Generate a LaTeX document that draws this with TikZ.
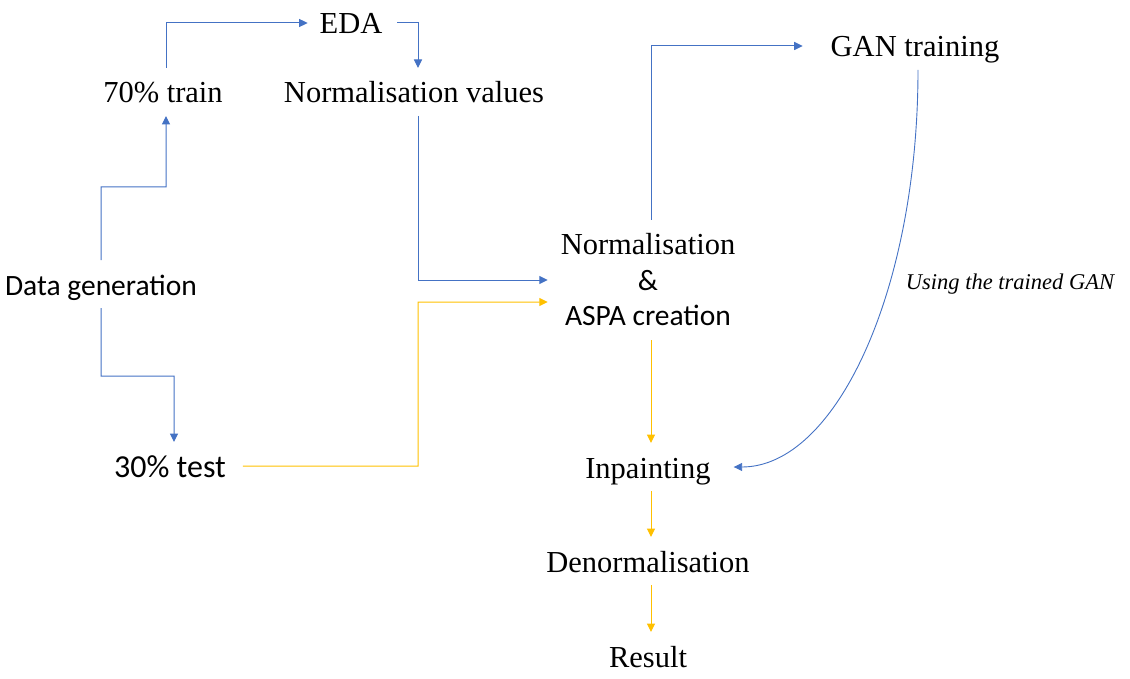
\documentclass[tikz,border=0pt]{standalone}
\usepackage{fontspec}
\setmainfont{Liberation Serif}
\newfontfamily\calib{Carlito}
\usetikzlibrary{arrows.meta,calc}
\definecolor{oblue}{HTML}{4472C4}
\definecolor{oyellow}{HTML}{FFC000}
\tikzset{
  lbl/.style={inner sep=0pt, outer xsep=15bp, outer ysep=11bp, text height=24bp, text depth=2bp,
              font=\fontsize{30.5bp}{36bp}\selectfont},
  clbl/.style={lbl, font=\fontsize{29.5bp}{36bp}\selectfont\calib},
  tip/.style={-{Triangle[length=8.5bp,width=8bp]}},
  bl/.style={draw=oblue, line width=1bp, tip},
  yl/.style={draw=oyellow, line width=1bp, tip},
}
\begin{document}
\begin{tikzpicture}[x=1bp,y=-1bp]
\useasboundingbox (0,0) rectangle (1130,679);
\node[lbl] (eda) at (351,23) {EDA};
\node[lbl] (train) at (163,92) {70\% train};
\node[lbl] (nv) at (414,92) {Normalisation values};
\node[clbl] (dg) at (101,284) {Data generation};
\node[clbl, font=\fontsize{32bp}{36bp}\selectfont\calib] (test) at (170,466) {30\% test};
\node[lbl] (gan) at (915,46) {GAN training};
\node[inner sep=0pt, outer xsep=13bp, outer ysep=14bp, align=center,
      font=\fontsize{30.5bp}{35.5bp}\selectfont] (asp) at (648,280)
      {Normalisation\\{\calib\fontsize{29.5bp}{35.5bp}\selectfont \&}\\{\calib\fontsize{29.5bp}{35.5bp}\selectfont ASPA creation}};
\node[lbl] (inp) at (648,467) {Inpainting};
\node[lbl] (den) at (648,561) {Denormalisation};
\node[lbl] (res) at (648,656) {Result};
\node[inner sep=0pt, font=\fontsize{22.5bp}{26bp}\selectfont\itshape] (lab) at (1010,284) {Using the trained GAN};

\draw[bl] (dg.north) |- (166,187) -- ([xshift=3bp]train.south);
\draw[bl] ([xshift=3bp]train.north) |- ([xshift=3bp]eda.west);
\draw[bl] (eda.east) -| ([xshift=4bp]nv.north);
\draw[bl] ([xshift=4bp]nv.south) |- (asp.west);
\draw[bl] (dg.south) |- (174,376) -- ([xshift=4bp]test.north);
\draw[yl] ([xshift=2bp]test.east) -| (418,302) -- ([yshift=-22bp]asp.west);
\draw[bl] ([xshift=3bp]asp.north) |- ([xshift=-13bp]gan.west);
\draw[yl] ([xshift=3bp]asp.south) -- ([xshift=3bp]inp.north);
\draw[yl] ([xshift=3bp]inp.south) -- ([xshift=3bp]den.north);
\draw[yl] ([xshift=3bp]den.south) -- ([xshift=3bp]res.north);
\draw[bl, line width=0.9bp] ([xshift=3bp]gan.south) .. controls (918,290) and (836,467) .. ([xshift=8bp]inp.east);
\end{tikzpicture}
\end{document}
